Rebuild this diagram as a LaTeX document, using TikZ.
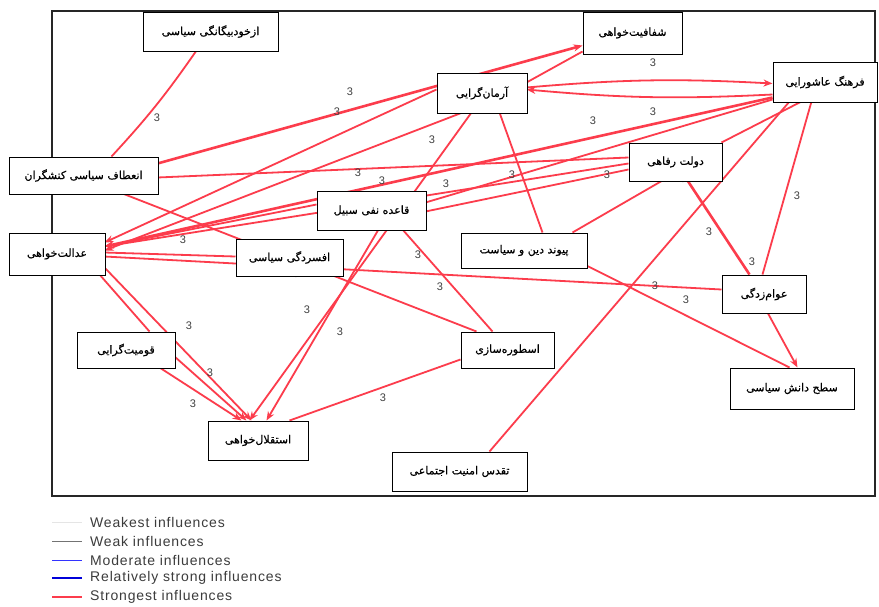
\documentclass[tikz,border=0pt]{standalone}
\usepackage{fontspec}
\usetikzlibrary{arrows.meta}
\TeXXeTstate=1
\newfontfamily\fa[Script=Arabic,FakeBold=0.5]{DejaVu Sans}
\newfontfamily\legfont[LetterSpace=6]{Liberation Sans}
\newfontfamily\numfont{Liberation Sans}
\definecolor{infred}{RGB}{252,60,76}
\definecolor{legtxt}{RGB}{60,60,60}
\pgfdeclarelayer{bg}
\pgfsetlayers{bg,main}
\begin{document}
\begin{tikzpicture}[x=1pt,y=-1pt,
  box/.style={draw=black, line width=1pt, fill=white, inner sep=0pt, font=\fa\fontsize{11}{12}\selectfont},
  rel/.style={draw=infred, line width=1.8pt},
  thick rel/.style={draw=infred, line width=2.6pt},
  arr/.style={-{Stealth[length=9pt,width=7pt]}},
  val/.style={font=\numfont\fontsize{11}{12}\selectfont, text=black!75, inner sep=0pt},
  legline/.style={line width=#1},
  legtext/.style={font=\legfont\fontsize{14}{15}\selectfont, text=legtxt, anchor=west, inner sep=0pt},
]
\useasboundingbox (0,0) rectangle (879,606);

% boxes (main layer, on top of connectors)
\node[box, minimum width=135pt, minimum height=39pt] (n1) at (210.5,31.5) {\beginR ازخودبیگانگی سیاسی\endR};
\node[box, minimum width=99pt, minimum height=42pt] (n2) at (632.5,33) {\beginR شفافیت‌خواهی\endR};
\node[box, minimum width=104pt, minimum height=40pt] (n3) at (825,82) {\beginR فرهنگ عاشورایی\endR};
\node[box, minimum width=90pt, minimum height=40pt] (n4) at (482,93) {\beginR آرمان‌گرایی\endR};
\node[box, minimum width=149pt, minimum height=37pt] (n5) at (83.5,175.5) {\beginR انعطاف سیاسی کنشگران\endR};
\node[box, minimum width=93pt, minimum height=38pt] (n6) at (675.5,162) {\beginR دولت رفاهی\endR};
\node[box, minimum width=109pt, minimum height=39pt] (n7) at (371.5,210.5) {\beginR قاعده نفی سبیل\endR};
\node[box, minimum width=96pt, minimum height=42pt] (n8) at (57,254) {\beginR عدالت‌خواهی\endR};
\node[box, minimum width=107pt, minimum height=37pt] (n9) at (289.5,257.5) {\beginR افسردگی سیاسی\endR};
\node[box, minimum width=126pt, minimum height=35pt] (n10) at (524,250.5) {\beginR پیوند دین و سیاست\endR};
\node[box, minimum width=84pt, minimum height=38pt] (n11) at (764,294) {\beginR عوام‌زدگی\endR};
\node[box, minimum width=98pt, minimum height=36pt] (n12) at (126,350) {\beginR قومیت‌گرایی\endR};
\node[box, minimum width=93pt, minimum height=36pt] (n13) at (507.5,350) {\beginR اسطوره‌سازی\endR};
\node[box, minimum width=124pt, minimum height=41pt] (n14) at (792,388.5) {\beginR سطح دانش سیاسی\endR};
\node[box, minimum width=100pt, minimum height=39pt] (n15) at (258,440.5) {\beginR استقلال‌خواهی\endR};
\node[box, minimum width=135pt, minimum height=39pt] (n16) at (459.5,471.5) {\beginR تقدس امنیت اجتماعی\endR};

\begin{pgfonlayer}{bg}
\fill[white] (0,0) rectangle (879,606);
\draw[line width=1.2pt, black!85] (52,11) rectangle (875,496);

% connectors
\draw[rel] ([shift={(54,39)}]n1.north west) to[bend left=4] ([shift={(103,0)}]n5.north west);
\draw[thick rel,arr] ([shift={(149,7)}]n5.north west) -- ([shift={(0,34)}]n2.north west);
\draw[rel,arr] ([shift={(0,17)}]n4.north west) -- ([shift={(96,10)}]n8.north west);
\draw[rel,arr] ([shift={(26,40)}]n4.north west) -- ([shift={(96,18)}]n8.north west);
\draw[rel] ([shift={(90,10)}]n4.north west) -- ([shift={(0,40)}]n2.north west);
\draw[rel,arr] ([shift={(90,15)}]n4.north west) to[bend left=4] ([shift={(0,22)}]n3.north west);
\draw[rel,arr] ([shift={(0,33)}]n3.north west) to[bend left=4] ([shift={(90,17)}]n4.north west);
\draw[thick rel,arr] ([shift={(0,36)}]n3.north west) -- ([shift={(96,14)}]n8.north west);
\draw[rel] ([shift={(0,38)}]n3.north west) -- ([shift={(109,12)}]n7.north west);
\draw[rel] ([shift={(17,40)}]n3.north west) -- ([shift={(98,0)}]n16.north west);
\draw[rel] ([shift={(39,40)}]n3.north west) -- ([shift={(41,0)}]n11.north west);
\draw[rel] ([shift={(29,40)}]n3.north west) -- ([shift={(93,0)}]n6.north west);
\draw[rel] ([shift={(149,21)}]n5.north west) -- ([shift={(0,15)}]n6.north west);
\draw[rel,arr] ([shift={(0,21)}]n6.north west) -- ([shift={(96,14)}]n8.north west);
\draw[rel] ([shift={(0,27)}]n6.north west) -- ([shift={(109,21)}]n7.north west);
\draw[thick rel] ([shift={(59,38)}]n6.north west) -- ([shift={(28,0)}]n11.north west);
\draw[rel] ([shift={(34,38)}]n6.north west) -- ([shift={(112,0)}]n10.north west);
\draw[rel,arr] ([shift={(0,14)}]n7.north west) -- ([shift={(96,14)}]n8.north west);
\draw[rel,arr] ([shift={(62,39)}]n7.north west) -- ([shift={(59,0)}]n15.north west);
\draw[rel,arr] ([shift={(35,40)}]n4.north west) -- ([shift={(42,0)}]n15.north west);
\draw[rel] ([shift={(86,39)}]n7.north west) -- ([shift={(32,0)}]n13.north west);
\draw[rel] ([shift={(63,40)}]n4.north west) -- ([shift={(82,0)}]n10.north west);
\draw[rel] ([shift={(96,20)}]n8.north west) -- ([shift={(0,18)}]n9.north west);
\draw[rel] ([shift={(96,24)}]n8.north west) -- ([shift={(0,15)}]n11.north west);
\draw[rel] ([shift={(114,37)}]n5.north west) -- ([shift={(16,0)}]n13.north west);
\draw[rel] ([shift={(0,28)}]n13.north west) -- ([shift={(82,0)}]n15.north west);
\draw[rel,arr] ([shift={(96,35)}]n8.north west) -- ([shift={(44,0)}]n15.north west);
\draw[rel] ([shift={(91,42)}]n8.north west) -- ([shift={(73,0)}]n12.north west);
\draw[rel,arr] ([shift={(83,36)}]n12.north west) -- ([shift={(34,0)}]n15.north west);
\draw[rel,arr] ([shift={(98,25)}]n12.north west) -- ([shift={(39,0)}]n15.north west);
\draw[rel] ([shift={(126,33)}]n10.north west) -- ([shift={(60,0)}]n14.north west);
\draw[rel,arr] ([shift={(46,38)}]n11.north west) -- ([shift={(68,0)}]n14.north west);

% values
\node[val] (v1) at (157,118) {3};
\node[val] (v2) at (350,92) {3};
\node[val] (v3) at (337,112) {3};
\node[val] (v4) at (653,63) {3};
\node[val] (v5) at (653,112) {3};
\node[val] (v6) at (432,140) {3};
\node[val] (v7) at (593,121) {3};
\node[val] (v8) at (358,173) {3};
\node[val] (v9) at (382,181) {3};
\node[val] (v10) at (446,184) {3};
\node[val] (v11) at (512,175) {3};
\node[val] (v12) at (607,175) {3};
\node[val] (v13) at (183,240) {3};
\node[val] (v14) at (418,255) {3};
\node[val] (v15) at (440,287) {3};
\node[val] (v16) at (307,310) {3};
\node[val] (v17) at (340,332) {3};
\node[val] (v18) at (189,326) {3};
\node[val] (v19) at (210,373) {3};
\node[val] (v20) at (193,404) {3};
\node[val] (v21) at (383,398) {3};
\node[val] (v22) at (655,286) {3};
\node[val] (v23) at (686,300) {3};
\node[val] (v24) at (709,232) {3};
\node[val] (v25) at (752,262) {3};
\node[val] (v26) at (797,196) {3};
\node[val] (v27) at (683,179) {3};
\node[val] (v28) at (296,274) {3};
\end{pgfonlayer}

% legend
\coordinate (l1a) at (52,522); \coordinate (l1b) at (82,522);
\coordinate (l2a) at (52,541); \coordinate (l2b) at (82,541);
\coordinate (l3a) at (52,560); \coordinate (l3b) at (82,560);
\coordinate (l4a) at (52,578); \coordinate (l4b) at (82,578);
\coordinate (l5a) at (52,597); \coordinate (l5b) at (82,597);
\draw[legline=1pt, black!10] (l1a) -- (l1b);
\draw[legline=1pt, black!55] (l2a) -- (l2b);
\draw[legline=1pt, blue!80] (l3a) -- (l3b);
\draw[legline=2.4pt, blue!85!black] (l4a) -- (l4b);
\draw[legline=2.6pt, infred] (l5a) -- (l5b);
\node[legtext] (g1) at (90,522) {Weakest influences};
\node[legtext] (g2) at (90,541) {Weak influences};
\node[legtext] (g3) at (90,560) {Moderate influences};
\node[legtext] (g4) at (90,578) {Relatively strong influences};
\node[legtext] (g5) at (90,597) {Strongest influences};
\end{tikzpicture}
\end{document}
